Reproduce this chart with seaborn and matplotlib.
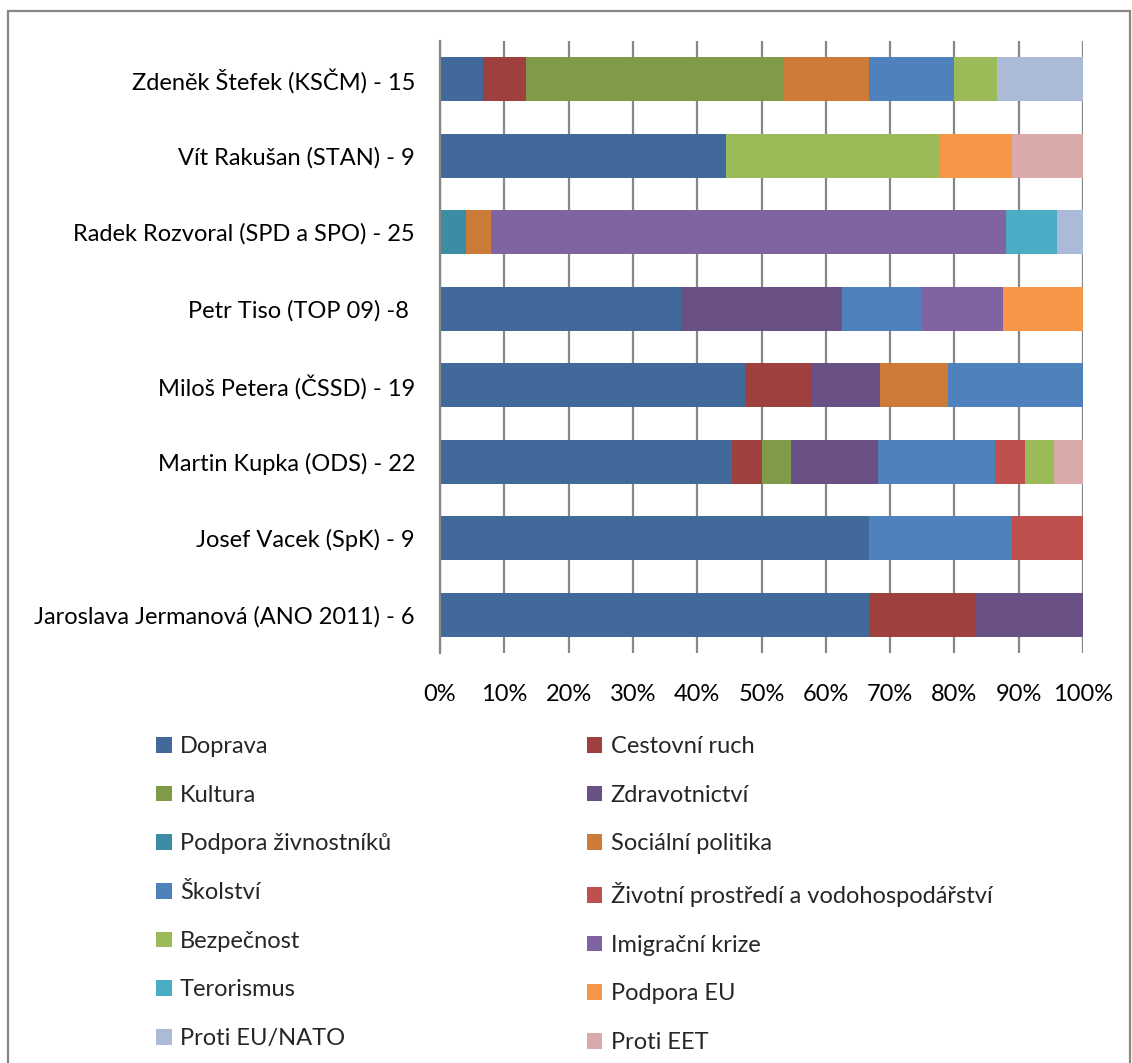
import pandas as pd
import numpy as np
import matplotlib
matplotlib.use("Agg")
import matplotlib.pyplot as plt
import seaborn as sns
from matplotlib.patches import Patch, Rectangle

# kandidati (odshora dolu) a pocty temat
kandidati = ["Zdeněk Štefek (KSČM) - 15", "Vít Rakušan (STAN) - 9",
             "Radek Rozvoral (SPD a SPO) - 25", "Petr Tiso (TOP 09) -8 ",
             "Miloš Petera (ČSSD) - 19", "Martin Kupka (ODS) - 22",
             "Josef Vacek (SpK) - 9", "Jaroslava Jermanová (ANO 2011) - 6"]

temata = ["Doprava", "Cestovní ruch", "Kultura", "Zdravotnictví",
          "Podpora živnostníků", "Sociální politika", "Školství",
          "Životní prostředí a vodohospodářství", "Bezpečnost",
          "Imigrační krize", "Terorismus", "Podpora EU", "Proti EU/NATO", "Proti EET"]

doprava = [1, 4, 0, 3, 9, 10, 6, 4]
cestovni_ruch = [1, 0, 0, 0, 2, 1, 0, 1]
kultura = [6, 0, 0, 0, 0, 1, 0, 0]
zdravotnictvi = [0, 0, 0, 2, 2, 3, 0, 1]
zivnostnici = [0, 0, 1, 0, 0, 0, 0, 0]
socialni = [2, 0, 1, 0, 2, 0, 0, 0]
skolstvi = [2, 0, 0, 1, 4, 4, 2, 0]
zivotni = [0, 0, 0, 0, 0, 1, 1, 0]
bezpecnost = [1, 3, 0, 0, 0, 1, 0, 0]
imigrace = [0, 0, 20, 1, 0, 0, 0, 0]
terorismus = [0, 0, 2, 0, 0, 0, 0, 0]
podpora_eu = [0, 1, 0, 1, 0, 0, 0, 0]
proti_nato = [2, 0, 1, 0, 0, 0, 0, 0]
proti_eet = [0, 1, 0, 0, 0, 1, 0, 0]

barvy = ["#416A9B", "#9E413E", "#7F9A48", "#695185", "#3C8DA3", "#CC7B38",
         "#4F81BD", "#C0504D", "#9BBB59", "#8064A2", "#4BACC6", "#F79646",
         "#AABAD7", "#D9AAA9"]

sns.set_style("white")
plt.rcParams['font.family'] = ['Lato', 'DejaVu Sans']

df = pd.DataFrame({"kandidat": kandidati, "Doprava": doprava, "Cestovní ruch": cestovni_ruch,
                   "Kultura": kultura, "Zdravotnictví": zdravotnictvi,
                   "Podpora živnostníků": zivnostnici, "Sociální politika": socialni,
                   "Školství": skolstvi, "Životní prostředí a vodohospodářství": zivotni,
                   "Bezpečnost": bezpecnost, "Imigrační krize": imigrace,
                   "Terorismus": terorismus, "Podpora EU": podpora_eu,
                   "Proti EU/NATO": proti_nato, "Proti EET": proti_eet}).set_index("kandidat")

pct = df.div(df.sum(axis=1), axis=0) * 100
cum = pct.cumsum(axis=1).reset_index()

fig = plt.figure(figsize=(11.32, 10.63), dpi=100)
ax = fig.add_axes([440 / 1132, 1 - 653 / 1063, 643 / 1132, 612 / 1063])

# kumulativni sloupce od posledniho tematu, kratsi prekryvaji delsi
for tema, barva in reversed(list(zip(temata, barvy))):
    sns.barplot(data=cum, x=tema, y="kandidat", color=barva, orient="h",
                order=kandidati, width=0.57, errorbar=None, ax=ax,
                linewidth=0, saturation=1)

ax.set_xlim(0, 100)
ax.set_ylim(7.5, -0.5)
ax.set_xticks(np.arange(0, 101, 10))
ax.set_xticklabels([f"{v}%" for v in range(0, 101, 10)])
ax.set_xlabel("")
ax.set_ylabel("")
ax.set_axisbelow(True)
ax.grid(axis="x", color="#878787", linewidth=1.6)
ax.grid(axis="y", visible=False)
for s in ["top", "right", "bottom"]:
    ax.spines[s].set_visible(False)
ax.spines["left"].set_color("#878787")
ax.spines["left"].set_linewidth(1.6)
ax.tick_params(axis="both", length=0, labelsize=17, colors="black")
ax.tick_params(axis="x", pad=22)
ax.tick_params(axis="y", pad=18)

# legenda: radky po dvou, proto preskladat pro ncol=2
handles = [Patch(facecolor=b, edgecolor="none", label=t) for t, b in zip(temata, barvy)]
handles = handles[0::2] + handles[1::2]
fig.legend(handles=handles, ncol=2, loc="upper left",
           bbox_to_anchor=(135 / 1132, 1 - 715 / 1063), frameon=False, fontsize=17,
           handlelength=0.65, handleheight=0.65, handletextpad=0.35,
           labelspacing=1.17, columnspacing=8.3)

# ramecek kolem grafu
fig.patches.append(Rectangle((8 / 1132, -0.05), 1122 / 1132, 1.05 - 11 / 1063,
                             transform=fig.transFigure, fill=False,
                             edgecolor="#878787", linewidth=1.6))

plt.savefig("out.png", dpi=100)
